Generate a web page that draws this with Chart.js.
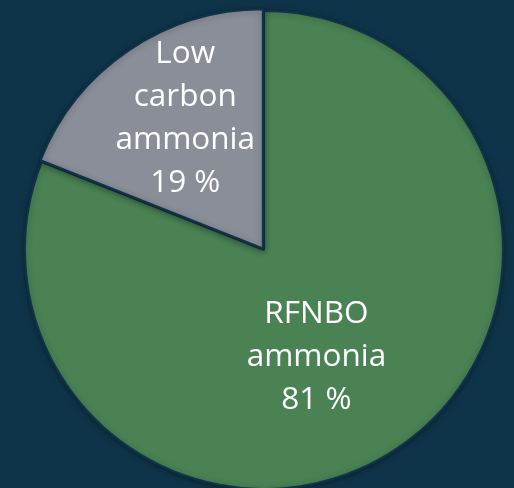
<!DOCTYPE html>
<html>
<head>
<meta charset="utf-8">
<script src="https://cdn.jsdelivr.net/npm/chart.js@4"></script>
<style>
    html, body { margin: 0; padding: 0; background: #0f3449; }
    #wrap { width: 514px; height: 488px; }
</style>
</head>
<body>
<div id="wrap"><canvas id="pieChart"></canvas></div>
<script>
// Chart data
const categories = [['RFNBO', 'ammonia'], ['Low', 'carbon', 'ammonia']];
const shares = [81, 19];
const sliceColors = ['#4a8254', '#8a8e99'];

// where each label sits inside its slice: [fraction of sweep, fraction of radius]
const labelAnchors = [[0.528, 0.5], [0.547, 0.64]];

// Labels drawn inside the slices
const sliceLabels = {
    id: 'sliceLabels',
    afterDatasetsDraw(chart) {
        const ctx = chart.ctx;
        const meta = chart.getDatasetMeta(0);
        ctx.save();
        ctx.fillStyle = '#ffffff';
        ctx.font = '31.5px "Open Sans"';
        ctx.textAlign = 'center';
        ctx.textBaseline = 'middle';
        meta.data.forEach((arc, i) => {
            const p = arc.getProps(['x', 'y', 'startAngle', 'endAngle', 'outerRadius'], true);
            const a = p.startAngle + (p.endAngle - p.startAngle) * labelAnchors[i][0];
            const r = p.outerRadius * labelAnchors[i][1];
            const cx = p.x + Math.cos(a) * r;
            const cy = p.y + Math.sin(a) * r;
            const lines = categories[i].concat([shares[i] + ' %']);
            const lh = 43;
            lines.forEach((t, j) => {
                ctx.fillText(t, cx, cy + (j - (lines.length - 1) / 2) * lh);
            });
        });
        ctx.restore();
    }
};

// soft shadow under the pie
const pieShadow = {
    id: 'pieShadow',
    beforeDatasetsDraw(chart) {
        const ctx = chart.ctx;
        ctx.save();
        ctx.shadowColor = 'rgba(0, 0, 0, 0.35)';
        ctx.shadowBlur = 6;
        ctx.shadowOffsetY = 1;
    },
    afterDatasetsDraw(chart) {
        chart.ctx.restore();
    }
};

const ctx = document.getElementById('pieChart').getContext('2d');
new Chart(ctx, {
    type: 'pie',
    data: {
        labels: categories.map(c => c.join(' ')),
        datasets: [{
            data: shares,
            backgroundColor: sliceColors,
            borderColor: '#0f3449',
            borderWidth: 2,
            offset: [0, 8],
            clip: false
        }]
    },
    options: {
        responsive: true,
        maintainAspectRatio: false,
        animation: false,
        radius: 239,
        layout: { padding: { top: 12, left: 14, right: 0, bottom: 0 } },
        plugins: {
            legend: { display: false },
            tooltip: { enabled: false }
        }
    },
    plugins: [pieShadow, sliceLabels]
});
</script>
</body>
</html>
